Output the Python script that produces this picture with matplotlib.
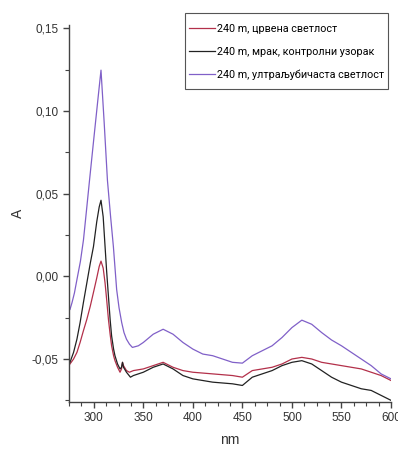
import matplotlib
matplotlib.use("Agg")
import matplotlib.pyplot as plt
from matplotlib import font_manager
from matplotlib.patches import Rectangle
from matplotlib.ticker import MultipleLocator, FuncFormatter

# ---- data ----
wl_red = [276, 279.6, 283, 286.2, 289.5, 293, 296.5, 299.7, 303, 305.5, 307.3, 309.5, 311.4, 313, 314.8, 316.5, 318, 320, 321.4,
          324, 326.5, 328, 329, 330, 333, 336, 340,
          350, 360, 370, 380, 390, 400, 420, 440, 450, 460, 470, 480, 490, 500, 510, 520, 530, 540, 550, 560, 570, 580, 590, 600]
a_red = [-0.053, -0.050, -0.046, -0.040, -0.033, -0.026, -0.018, -0.0097, -0.001, 0.006, 0.0092, 0.005, -0.004, -0.014, -0.026,
         -0.035, -0.042, -0.048, -0.051, -0.055, -0.058, -0.056, -0.052, -0.054, -0.057, -0.058, -0.057,
         -0.056, -0.054, -0.052, -0.055, -0.057, -0.058, -0.059, -0.060, -0.061, -0.057, -0.056, -0.055, -0.053, -0.050, -0.049,
         -0.050, -0.052, -0.053, -0.054, -0.055, -0.056, -0.058, -0.060, -0.063]

wl_black = [276, 279.6, 283, 286.2, 289.5, 293, 296.5, 299.7, 303, 305.5, 307.3, 309.5, 311.4, 313, 314.8, 316.5, 318, 320, 321.4,
            324, 326.5, 328, 329, 330, 333, 337, 340, 350, 360, 370, 380, 390, 400, 420, 440, 450, 460, 470, 480, 490, 500, 510,
            520, 530, 540, 550, 560, 570, 580, 590, 600]
a_black = [-0.052, -0.046, -0.038, -0.028, -0.016, -0.004, 0.008, 0.018, 0.033, 0.042, 0.046, 0.036, 0.018, 0.003, -0.012,
           -0.026, -0.036, -0.044, -0.048, -0.053, -0.056, -0.055, -0.052, -0.055,
           -0.058, -0.061, -0.060, -0.058, -0.055, -0.053, -0.056, -0.060, -0.062, -0.064, -0.065, -0.066, -0.061, -0.059,
           -0.057, -0.054, -0.052, -0.051, -0.053, -0.057, -0.061, -0.064, -0.066, -0.068, -0.069, -0.072, -0.075]

wl_uv = [276, 278, 280.5, 283, 286.5, 289.6, 292.5, 295.7, 300, 304, 307.3, 310.5, 313.8, 317, 319.8, 323.1, 325.5, 328.2, 330.5,
         333, 336, 339, 345, 350, 360, 370, 380, 390,
         400, 410, 420, 430, 440, 450, 460, 470, 480, 490, 500, 510, 520, 530, 540, 550, 560, 570, 580, 590, 600]
a_uv = [-0.020, -0.016, -0.010, -0.002, 0.009, 0.022, 0.039, 0.058, 0.083, 0.106, 0.1247, 0.093, 0.058, 0.036, 0.018, -0.008,
        -0.019, -0.028, -0.034, -0.038, -0.041, -0.043, -0.042, -0.040, -0.035, -0.032, -0.035, -0.040,
        -0.044, -0.047, -0.048, -0.050, -0.052, -0.0525, -0.048, -0.045, -0.042, -0.037, -0.031, -0.0265, -0.029, -0.034,
        -0.0385, -0.042, -0.046, -0.050, -0.054, -0.059, -0.062]

labels = ["240 m, црвена светлост", "240 m, мрак, контролни узорак", "240 m, ултраљубичаста светлост"]
colors = ["#b3304a", "#222222", "#8060c8"]

names = {f.name for f in font_manager.fontManager.ttflist}
leg_family = "Liberation Sans Narrow" if "Liberation Sans Narrow" in names else "Roboto"

W, H = 398, 451
fig = plt.figure(figsize=(W / 100, H / 100), dpi=100)
ax = fig.add_axes([69 / W, 49 / H, 322 / W, 377 / H])

ax.plot(wl_red, a_red, color=colors[0], lw=0.9, label=labels[0])
ax.plot(wl_black, a_black, color=colors[1], lw=0.9, label=labels[1])
ax.plot(wl_uv, a_uv, color=colors[2], lw=0.9, label=labels[2])

ax.set_xlim(275, 600)
ax.set_ylim(-0.076, 0.152)
ax.spines["top"].set_visible(False)
ax.spines["right"].set_visible(False)
for s in ("left", "bottom"):
    ax.spines[s].set_color("#444444")
    ax.spines[s].set_linewidth(1.0)

ax.xaxis.set_major_locator(MultipleLocator(50))
ax.xaxis.set_minor_locator(MultipleLocator(12.5))
ax.yaxis.set_major_locator(MultipleLocator(0.05))
ax.yaxis.set_minor_locator(MultipleLocator(0.025))
ax.yaxis.set_major_formatter(FuncFormatter(lambda v, p: f"{v:.2f}".replace(".", ",").replace("-0,00", "0,00")))
ax.tick_params(which="major", direction="out", length=4, width=1, color="#444444", labelsize=8.5,
               labelcolor="#333333")
ax.tick_params(which="minor", direction="out", length=3, width=0.8, color="#444444")
for lab in ax.get_xticklabels() + ax.get_yticklabels():
    lab.set_family("Liberation Sans")

ax.set_xlabel("nm", fontsize=10, family="Liberation Sans", color="#333333", labelpad=6)
ax.set_ylabel("A", fontsize=10, family="Liberation Sans", color="#333333", labelpad=5)


def make_legend(size, spacing):
    px = size * 100 / 72
    lg = fig.legend(loc="upper left", bbox_to_anchor=(189 / W, 1 - 24 / H),
                    prop={"family": leg_family, "size": size}, frameon=False,
                    handlelength=26 / px, handletextpad=0.2,
                    labelspacing=spacing, borderpad=0, borderaxespad=0)
    return lg


# fit the legend font so the longest label is ~167 px wide (as in the reference)
size = 8.3
leg = make_legend(size, 0.7)
fig.canvas.draw()
r = fig.canvas.get_renderer()
w = leg.get_texts()[2].get_window_extent(r).width
leg.remove()
size = size * 167 / w
spacing = max(0.1, (23.5 - size * 100 / 72 * 1.0) / (size * 100 / 72))
leg = make_legend(size, spacing)

# legend frame as in the reference
fig.patches.append(Rectangle((185 / W, 1 - 89 / H), 203 / W, 76 / H, transform=fig.transFigure,
                             facecolor="white", edgecolor="#555555", linewidth=0.8, zorder=0.5))
leg.set_zorder(3)

fig.savefig("out.png", dpi=100)
